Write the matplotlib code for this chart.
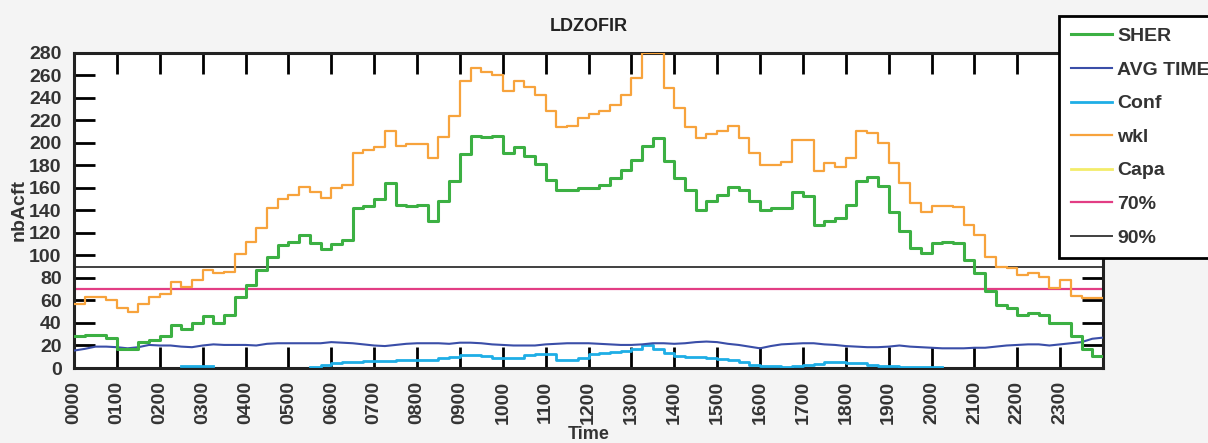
import numpy as np
import matplotlib
matplotlib.use('Agg')
import matplotlib.pyplot as plt

# 15 minute slots over the day (hours)
slot_edges = np.arange(97) * 0.25
hour_ticks = list(range(24))
hour_labels = ['%02d00' % h for h in hour_ticks]

sher = [28, 29, 29, 27, 17, 17, 23, 25, 28, 38, 35, 40,
        46, 40, 47, 63, 74, 87, 99, 109, 112, 118, 111, 106,
        110, 114, 142, 144, 150, 164, 145, 144, 145, 131, 148, 166,
        190, 206, 205, 206, 191, 196, 188, 181, 167, 158, 158, 160,
        160, 163, 169, 176, 185, 197, 204, 184, 169, 158, 140, 148,
        154, 161, 158, 148, 140, 142, 142, 156, 153, 127, 131, 133,
        145, 166, 170, 162, 139, 122, 107, 102, 111, 112, 111, 96,
        84, 68, 56, 53, 47, 49, 47, 40, 40, 28, 17, 11]

wkl = [57, 63, 63, 60, 53, 50, 57, 63, 66, 76, 72, 78,
       87, 84, 85, 101, 112, 124, 142, 150, 154, 161, 156, 151,
       160, 163, 191, 194, 196, 211, 197, 199, 199, 187, 205, 224,
       255, 267, 263, 260, 246, 255, 250, 243, 228, 214, 215, 222,
       226, 228, 234, 243, 258, 280, 280, 249, 231, 214, 204, 208,
       211, 215, 204, 191, 180, 180, 183, 203, 203, 175, 182, 179,
       187, 211, 209, 200, 182, 164, 147, 139, 144, 144, 143, 127,
       118, 99, 90, 89, 83, 84, 81, 71, 78, 64, 62, 62]

avg_time = [15.5, 17, 19, 19, 18.5, 17.5, 18.5, 20.5, 20, 20, 19, 18.5,
            20, 21, 20.5, 20.5, 20.5, 20, 21.5, 22, 22, 22, 22, 22,
            23, 22.5, 22, 21, 20, 19.5, 20.5, 21.5, 22, 22, 22, 21.5,
            22.5, 22.5, 22, 21, 20.5, 20, 20, 20, 21, 21.5, 22, 22,
            22, 21.5, 21, 20.5, 20.5, 21, 22, 22, 21.5, 22, 23, 23.5,
            23, 21.5, 20.5, 19, 17.5, 19.5, 21, 21.5, 22, 22, 21, 20.5,
            19.5, 19, 18.5, 18.5, 19, 20, 19, 18.5, 18, 17.5, 17.5, 17.5,
            18, 18, 19, 20, 20.5, 21, 21, 20, 21, 22, 23, 26, 27]

nan = np.nan
conf = [nan] * 10 + [1.5, 2, 1.5] + [nan] * 9 + \
       [1, 2.5, 4, 5, 5.5, 6, 6, 6.5, 7, 7,
        7, 7.5, 8.5, 10, 11.5, 11.5, 11, 9, 8.5, 9, 11.5, 12.5,
        12, 7, 7, 8.5, 12, 13, 14.5, 15.5, 16.5, 20, 17, 13.5,
        10.5, 10, 9.5, 8.5, 8, 7, 5, 3, 2, 1.5, 1, 1.5,
        3, 3.5, 5.5, 5, 4.5, 4.5, 3, 2, 1.5, 1, 1, 1, 1] + [nan] * 16

capa = []
pct70 = 70
pct90 = 90

fig = plt.figure(figsize=(12.08, 4.43), dpi=100, facecolor='#f4f4f4')
plt.rcParams['font.family'] = ['Liberation Sans', 'DejaVu Sans']
ax = fig.add_axes([0.0613, 0.1693, 0.8518, 0.7111])

txt = '#333333'
ax.plot(slot_edges, sher + [sher[-1]], drawstyle='steps-post', color='#3cb043', lw=2.2, label='SHER', zorder=5)
ax.plot(slot_edges, avg_time, color='#3a4ea8', lw=1.5, label='AVG TIME', zorder=4)
ax.plot(slot_edges, conf, drawstyle='steps-post', color='#1eaee6', lw=2, label='Conf', zorder=3)
ax.plot(slot_edges, wkl + [wkl[-1]], drawstyle='steps-post', color='#f7a33c', lw=1.6, label='wkl', zorder=4)
ax.plot(capa, capa, color='#f3ec6a', lw=2, label='Capa')
ax.axhline(pct70, color='#e23d84', lw=1.6, label='70%', zorder=2)
ax.axhline(pct90, color='#404040', lw=1.4, label='90%', zorder=2)

ax.set_xlim(0, 24)
ax.set_ylim(0, 280)
ax.set_xticks(hour_ticks)
ax.set_xticklabels(hour_labels, rotation=90)
ax.set_yticks(range(0, 281, 20))
ax.tick_params(axis='both', direction='in', length=15, width=2, top=True, right=True,
               labelsize=14, pad=9, labelcolor=txt)
for lab in ax.get_xticklabels() + ax.get_yticklabels():
    lab.set_fontweight('bold')
for sp in ax.spines.values():
    sp.set_linewidth(2.2)
    sp.set_color('#222222')

ax.set_title('LDZOFIR', fontsize=13, fontweight='bold', color='#222222', pad=16)
ax.set_xlabel('Time', fontsize=13, fontweight='bold', color=txt)
ax.xaxis.set_label_coords(0.5, -0.185)
ax.set_ylabel('nbAcft', fontsize=14, fontweight='bold', color=txt)
ax.yaxis.set_label_coords(-0.045, 0.5)

# legend sits partly outside the figure, as in the original export
leg = fig.legend(loc='upper left', bbox_to_anchor=(0.8767, 0.964), borderaxespad=0,
                 fontsize=14, fancybox=False, edgecolor='black', framealpha=1,
                 handlelength=2.1, handletextpad=0.3, labelspacing=0.82, borderpad=0.6)
leg.get_frame().set_linewidth(2)
for t in leg.get_texts():
    t.set_fontweight('bold')
    t.set_color(txt)

fig.savefig('out.png', dpi=100, facecolor=fig.get_facecolor())
